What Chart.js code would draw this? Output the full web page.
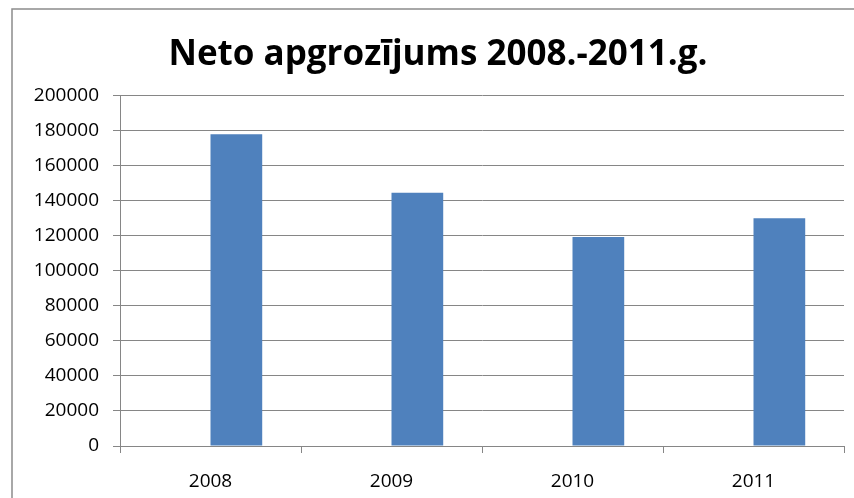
<!DOCTYPE html>
<html>
<head>
<meta charset="utf-8">
<script src="https://cdn.jsdelivr.net/npm/chart.js@4/dist/chart.umd.min.js"></script>
<style>
  html, body { margin: 0; padding: 0; background: #ffffff; }
  #wrap { position: relative; width: 854px; height: 498px; }
</style>
</head>
<body>
<div id="wrap"><canvas id="c" width="854" height="498"></canvas></div>
<script>
const titleText = 'Neto apgrozījums 2008.-2011.g.';
const years = ['2008', '2009', '2010', '2011'];
const netTurnover = [177900, 144500, 119300, 130000];
const emptySeries = [null, null, null, null];
const yMin = 0;
const yMax = 200000;
const yStep = 20000;

const frame = {
  id: 'frame',
  afterDraw(chart) {
    const ctx = chart.ctx;
    ctx.save();
    ctx.strokeStyle = '#8c8c8c';
    ctx.lineWidth = 1.5;
    ctx.strokeRect(12, 9, 900, 600);
    ctx.restore();
  }
};

new Chart(document.getElementById('c'), {
  type: 'bar',
  data: {
    labels: years,
    datasets: [
      { label: 'Series 1', data: emptySeries, backgroundColor: '#4F81BD' },
      { label: 'Neto apgrozījums', data: netTurnover, backgroundColor: '#4F81BD' }
    ]
  },
  options: {
    responsive: false,
    animation: false,
    devicePixelRatio: 1,
    layout: { padding: { left: 32, right: 10, top: 0, bottom: 0 } },
    datasets: { bar: { categoryPercentage: 2 / 3.5, barPercentage: 1 } },
    plugins: {
      legend: { display: false },
      tooltip: { enabled: false },
      title: {
        display: true,
        text: titleText,
        color: '#000000',
        font: { family: 'Open Sans', size: 35, weight: 'bold', lineHeight: 1.2 },
        padding: { top: 34, bottom: 19.5 }
      }
    },
    scales: {
      x: {
        grid: { offset: true, drawOnChartArea: false, drawTicks: true, tickLength: 7, color: '#868686', lineWidth: 1 },
        border: { display: true, color: '#868686', width: 1 },
        ticks: { color: '#000000', font: { family: 'Open Sans', size: 19 }, padding: 17, maxRotation: 0 },
        afterFit(scale) { scale.height = 52; }
      },
      y: {
        min: yMin,
        max: yMax,
        ticks: {
          stepSize: yStep,
          color: '#000000',
          font: { family: 'Open Sans', size: 19 },
          padding: 14,
          callback: (v) => String(v)
        },
        grid: { color: '#868686', lineWidth: 1, tickLength: 7, drawTicks: true },
        border: { display: true, color: '#868686', width: 1 },
        afterFit(scale) { scale.width = 88; }
      }
    }
  },
  plugins: [frame]
});
</script>
</body>
</html>
